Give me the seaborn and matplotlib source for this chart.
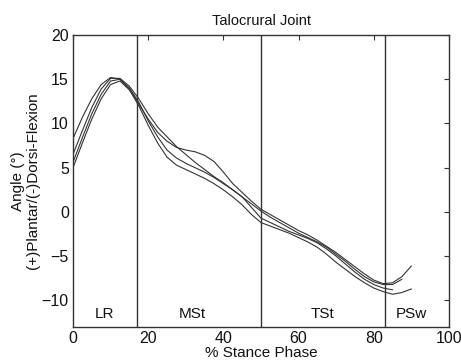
import numpy as np
import pandas as pd
import matplotlib
matplotlib.use("Agg")
import matplotlib.pyplot as plt
import seaborn as sns

# ---- data ----
stance = [0, 2.5, 5, 7.5, 10, 12.5, 15, 17.5, 20, 22.5, 25, 27.5, 30, 32.5, 35,
          37.5, 40, 42.5, 45, 47.5, 50, 52.5, 55, 57.5, 60, 62.5, 65, 67.5, 70,
          72.5, 75, 77.5, 80, 82.5, 85, 87.5, 90]

trial_1 = [8.3, 10.7, 12.8, 14.4, 15.2, 15.0, 13.9, 12.2, 10.5, 9.0, 8.0, 7.3, 7.0, 6.8, 6.4,
           5.7, 4.5, 3.2, 2.2, 1.2, 0.3, -0.3, -0.9, -1.5, -2.1, -2.6, -3.2, -3.9, -4.6,
           -5.4, -6.2, -7.0, -7.7, -8.1, -8.0, -7.3, -6.1]
trial_2 = [6.5, 9.2, 11.8, 13.9, 15.1, 15.1, 14.2, 12.8, 11.1, 9.6, 8.5, 7.4, 6.5, 5.6, 4.8,
           4.0, 3.3, 2.5, 1.7, 0.9, 0.1, -0.6, -1.2, -1.8, -2.4, -2.9, -3.4, -4.0, -4.8,
           -5.6, -6.5, -7.3, -7.9, -8.2, -8.2, -7.6]
trial_3 = [5.6, 8.4, 11.1, 13.3, 14.8, 15.0, 14.0, 12.4, 10.3, 8.5, 7.0, 6.1, 5.5, 5.0, 4.5,
           3.9, 3.2, 2.5, 1.7, 0.5, -0.7, -1.2, -1.7, -2.2, -2.6, -3.0, -3.5, -4.2, -5.0,
           -5.9, -6.8, -7.6, -8.2, -8.6, -8.8]
trial_4 = [5.0, 7.8, 10.5, 12.8, 14.4, 14.8, 13.8, 12.0, 9.8, 7.8, 6.2, 5.3, 4.8, 4.3, 3.8,
           3.2, 2.5, 1.7, 0.8, -0.3, -1.2, -1.6, -2.0, -2.4, -2.9, -3.4, -4.0, -4.8, -5.7,
           -6.5, -7.3, -8.0, -8.6, -9.0, -9.3, -9.1, -8.7]

phase_bounds = [17, 50, 83]
phase_names = ["LR", "MSt", "TSt", "PSw"]
phase_label_x = [8.5, 31.6, 66.3, 90.1]
phase_label_y = -11.5

x_ticks = [0, 20, 40, 60, 80, 100]
y_ticks = [-10, -5, 0, 5, 10, 15, 20]

trials = [trial_1, trial_2, trial_3, trial_4]
rows = []
for i, tr in enumerate(trials):
    for xv, yv in zip(stance, tr):
        rows.append({"stance": xv, "angle": yv, "trial": i})
df = pd.DataFrame(rows)

# ---- plot ----
sns.set_style("white")
plt.rcParams["font.family"] = ["Liberation Sans", "DejaVu Sans"]

fig = plt.figure(figsize=(4.61, 3.64), dpi=100)
ax = fig.add_axes([73 / 461, 37 / 364, (449 - 73) / 461, (327 - 35) / 364])

sns.lineplot(data=df, x="stance", y="angle", units="trial", estimator=None,
             color="#333333", linewidth=0.8, ax=ax, legend=False)

for b in phase_bounds:
    ax.axvline(b, color="#333333", linewidth=1.0)

for name, lx in zip(phase_names, phase_label_x):
    ax.text(lx, phase_label_y, name, ha="center", va="center", fontsize=11, color="#111111")

ax.set_xlim(0, 100)
ax.set_ylim(-13, 20)
ax.set_xticks(x_ticks)
ax.set_yticks(y_ticks)
ax.tick_params(direction="in", length=3.5, width=0.8, top=True, right=True,
               labelsize=11.5, colors="#333333", labelcolor="#111111", pad=3)
for s in ax.spines.values():
    s.set_color("#333333")
    s.set_linewidth(1.0)

ax.set_title("Talocrural Joint", fontsize=10.5, pad=7, color="#111111")
ax.set_xlabel("% Stance Phase", fontsize=11, labelpad=0, color="#111111")
ax.set_ylabel("Angle (°)\n(+)Plantar/(-)Dorsi-Flexion", fontsize=11, labelpad=1,
              color="#111111", linespacing=1.1)

fig.savefig("out.png", dpi=100, facecolor="white")
